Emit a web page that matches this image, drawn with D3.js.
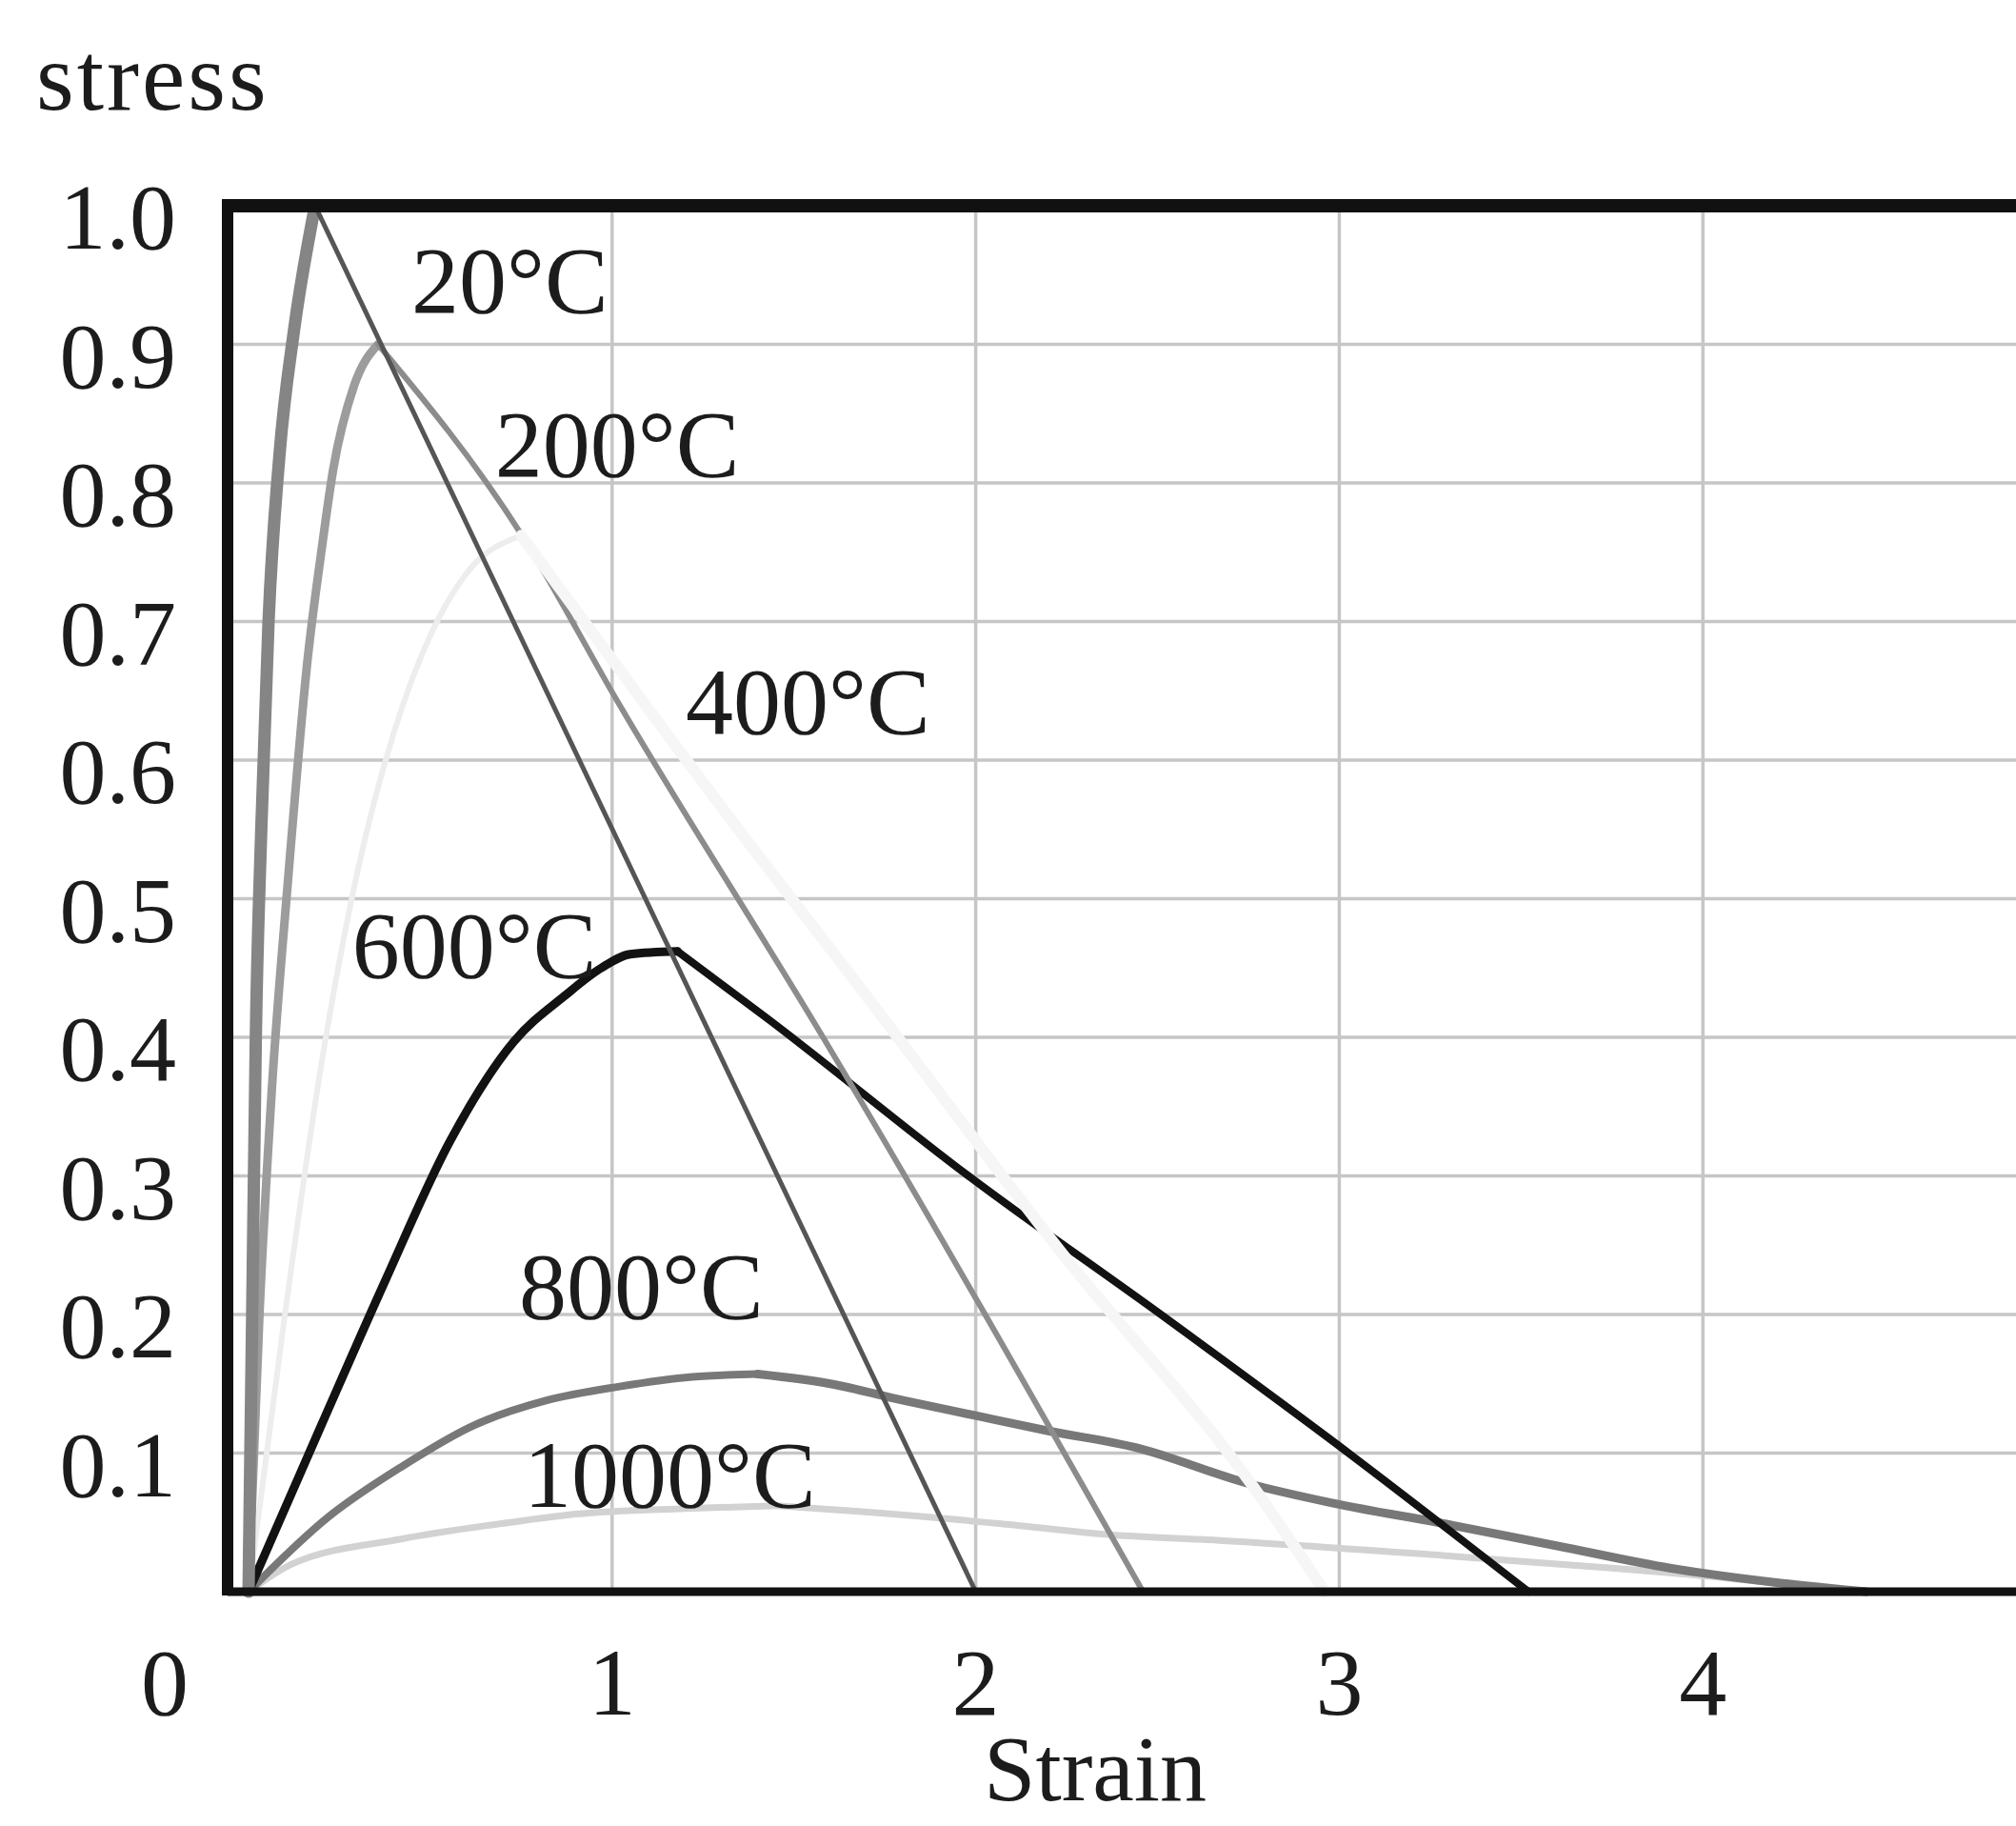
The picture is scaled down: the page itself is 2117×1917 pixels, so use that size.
<!DOCTYPE html>
<html>
<head>
<meta charset="utf-8">
<script src="https://cdn.jsdelivr.net/npm/d3@7"></script>
<style>
body { margin: 0; background: #fff; }
text { font-family: "Liberation Serif", "DejaVu Serif", serif; fill: #1c1c1c; }
</style>
</head>
<body>
<svg id="chart" width="2117" height="1917"></svg>
<script>
// tick values / labels
var xTicks = [0, 1, 2, 3, 4];
var xTickLabels = ['0', '1', '2', '3', '4'];
var yTicks = [0.1, 0.2, 0.3, 0.4, 0.5, 0.6, 0.7, 0.8, 0.9, 1.0];
var yTickLabels = ['0.1', '0.2', '0.3', '0.4', '0.5', '0.6', '0.7', '0.8', '0.9', '1.0'];
var xGrid = [1, 2, 3, 4, 5];
var yGrid = [0.1, 0.2, 0.3, 0.4, 0.5, 0.6, 0.7, 0.8, 0.9];

var temps = ['20°C', '200°C', '400°C', '600°C', '800°C', '1000°C'];

// normalised stress vs strain
var strain20 = [0, 0.01, 0.02, 0.035, 0.055, 0.085, 0.125, 0.183, 2.0];
var stress20 = [0, 0.2, 0.4, 0.55, 0.70, 0.82, 0.91, 1.0, 0];

var strain200 = [0, 0.03, 0.063, 0.11, 0.163, 0.2, 0.233, 0.29, 0.356, 0.75, 1.02, 1.58, 2.46];
var stress200 = [0, 0.2, 0.358, 0.518, 0.674, 0.75, 0.81, 0.87, 0.9, 0.763, 0.64, 0.40, 0];

var strain400 = [0, 0.1, 0.2, 0.3, 0.4, 0.5, 0.6, 0.75, 1.31, 1.67, 2.25, 2.76, 2.96];
var stress400 = [0, 0.2, 0.38, 0.52, 0.62, 0.69, 0.735, 0.762, 0.563, 0.44, 0.24, 0.077, 0];

var strain600 = [0, 0.2, 0.377, 0.554, 0.73, 0.87, 0.97, 1.05, 1.18, 1.43, 1.98, 2.53, 2.99, 3.52];
var stress600 = [0, 0.12, 0.225, 0.325, 0.397, 0.43, 0.45, 0.46, 0.462, 0.413, 0.30, 0.196, 0.107, 0];

var strain800 = [0, 0.22, 0.42, 0.62, 0.82, 1.02, 1.22, 1.4, 1.6, 1.8, 2.0, 2.2, 2.44, 2.75, 2.98, 3.29, 3.6, 3.91, 4.22, 4.45];
var stress800 = [0, 0.054, 0.09, 0.12, 0.138, 0.148, 0.155, 0.157, 0.15, 0.138, 0.127, 0.116, 0.104, 0.078, 0.064, 0.049, 0.033, 0.017, 0.006, 0];

var strain1000 = [0, 0.12, 0.42, 0.72, 0.9, 1.2, 1.45, 1.67, 2.07, 2.37, 2.67, 3.29, 3.75, 4.06, 4.4];
var stress1000 = [0, 0.02, 0.038, 0.05, 0.056, 0.06, 0.062, 0.058, 0.049, 0.041, 0.037, 0.026, 0.017, 0.01, 0];

var W = 2117, H = 1917;
var frame = { left: 239, top: 216, bottom: 1671 };

var x = d3.scaleLinear().domain([0, 5]).range([261, 261 + 5 * 381.8]);
var y = d3.scaleLinear().domain([0, 1]).range([frame.bottom, frame.top]);

var svg = d3.select('#chart');
svg.append('rect').attr('width', W).attr('height', H).attr('fill', '#fff');

// grid
var grid = svg.append('g').attr('stroke', '#c6c6c6').attr('stroke-width', 3.5);
grid.selectAll('.vg').data(xGrid).enter().append('line')
	.attr('x1', function(d){ return x(d); }).attr('x2', function(d){ return x(d); })
	.attr('y1', frame.top).attr('y2', frame.bottom);
grid.selectAll('.hg').data(yGrid).enter().append('line')
	.attr('x1', frame.left).attr('x2', W + 20)
	.attr('y1', function(d){ return y(d); }).attr('y2', function(d){ return y(d); });

var line = d3.line()
	.x(function(d){ return x(d[0]); })
	.y(function(d){ return y(d[1]); })
	.curve(d3.curveMonotoneX);

// rise / fall styles per curve, drawn in this order
var series = [
	{ sx: strain1000, sy: stress1000, rise: ['#d2d2d2', 7], fall: ['#d2d2d2', 7] },
	{ sx: strain800, sy: stress800, rise: ['#787878', 8], fall: ['#787878', 9] },
	{ sx: strain600, sy: stress600, rise: ['#121212', 9], fall: ['#121212', 8] },
	{ sx: strain200, sy: stress200, rise: ['#9c9c9c', 9], fall: ['#8c8c8c', 6] },
	{ sx: strain400, sy: stress400, rise: ['#ededed', 6], fall: ['#f6f6f6', 12] },
	{ sx: strain20, sy: stress20, rise: ['#858585', 13], fall: ['#555', 5] }
];

var curves = svg.append('g').attr('fill', 'none').attr('stroke-linejoin', 'round').attr('stroke-linecap', 'round');
series.forEach(function(s){
	var pts = d3.zip(s.sx, s.sy);
	var peak = d3.maxIndex(s.sy);
	curves.append('path').attr('d', line(pts.slice(0, peak + 1)))
		.attr('stroke', s.rise[0]).attr('stroke-width', s.rise[1]);
	curves.append('path').attr('d', line(pts.slice(peak)))
		.attr('stroke', s.fall[0]).attr('stroke-width', s.fall[1]);
});

// frame
var fr = svg.append('g').attr('stroke', '#111').attr('fill', 'none');
fr.append('line').attr('x1', frame.left).attr('x2', W + 20).attr('y1', frame.top).attr('y2', frame.top).attr('stroke-width', 14);
fr.append('line').attr('x1', frame.left).attr('x2', frame.left).attr('y1', frame.top - 7).attr('y2', frame.bottom + 4).attr('stroke-width', 12);
fr.append('line').attr('x1', frame.left).attr('x2', W + 20).attr('y1', frame.bottom).attr('y2', frame.bottom).attr('stroke-width', 9);

// tick labels
svg.selectAll('.yl').data(yTicks).enter().append('text')
	.attr('x', 185).attr('y', function(d){ return y(d) + 45; })
	.attr('text-anchor', 'end').attr('font-size', 98)
	.text(function(d, i){ return yTickLabels[i]; });

svg.selectAll('.xl').data(xTicks).enter().append('text')
	.attr('x', function(d){ return x(d) + (d === 0 ? -88 : 0); })
	.attr('y', 1800).attr('text-anchor', 'middle').attr('font-size', 100)
	.text(function(d, i){ return xTickLabels[i]; });

svg.append('text').attr('x', 38).attr('y', 115).attr('font-size', 102).attr('letter-spacing', 3).text('stress');
svg.append('text').attr('x', 1150).attr('y', 1890).attr('text-anchor', 'middle').attr('font-size', 98).text('Strain');

// curve labels, anchored in data space
var labelAt = [[0.448, 0.923], [0.678, 0.805], [1.202, 0.619], [0.285, 0.443], [0.744, 0.197], [0.757, 0.061]];
svg.selectAll('.cl').data(temps).enter().append('text')
	.attr('x', function(d, i){ return x(labelAt[i][0]); })
	.attr('y', function(d, i){ return y(labelAt[i][1]); })
	.attr('font-size', 100)
	.text(function(d){ return d; });
</script>
</body>
</html>
